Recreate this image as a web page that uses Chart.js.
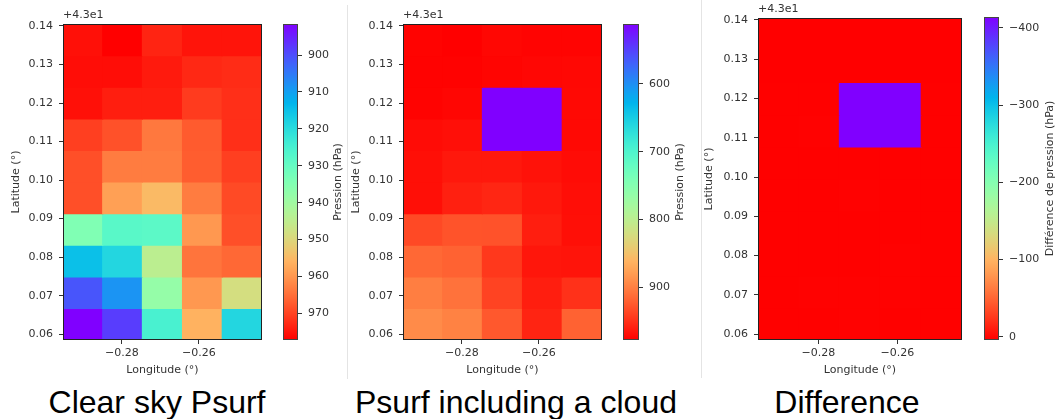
<!DOCTYPE html>
<html>
<head>
<meta charset="utf-8">
<script src="https://cdn.jsdelivr.net/npm/chart.js@4"></script>
<style>
  body { margin: 0; background: #fff; }
  #wrap { position: relative; width: 1055px; height: 419px; overflow: hidden; }
  canvas { position: absolute; }
  .sep { position: absolute; width: 1px; background: #e4e4e4; }
  .caption { position: absolute; top: 386px; font: 32px "Liberation Sans", Arial, sans-serif; line-height: 32px; color: #000; white-space: nowrap; transform: translateX(-50%); }
</style>
</head>
<body>
<div id="wrap">
  <canvas id="map1" width="275" height="380" style="left:0;top:0"></canvas>
  <canvas id="cb1" width="75" height="380" style="left:283px;top:0"></canvas>
  <canvas id="map2" width="265" height="380" style="left:350px;top:0"></canvas>
  <canvas id="cb2" width="75" height="380" style="left:623px;top:0"></canvas>
  <canvas id="map3" width="275" height="380" style="left:700px;top:0"></canvas>
  <canvas id="cb3" width="71" height="380" style="left:984px;top:0"></canvas>
  <div class="sep" style="left:347px;top:5px;height:374px"></div>
  <div class="sep" style="left:701px;top:0;height:378px"></div>
  <div class="caption" style="left:157px">Clear sky Psurf</div>
  <div class="caption" style="left:516px">Psurf including a cloud</div>
  <div class="caption" style="left:847px">Difference</div>
</div>
<script>
// grid cell centres (degrees)
const lonCenters = [-0.2901, -0.2798, -0.2695, -0.2591, -0.2488];
const latCenters = [43.0626, 43.0708, 43.0790, 43.0872, 43.0954, 43.1036, 43.1118, 43.1200, 43.1282, 43.1364];
const lonTicks = [-0.28, -0.26];
const latTicks = [43.06, 43.07, 43.08, 43.09, 43.10, 43.11, 43.12, 43.13, 43.14];

// rows go south -> north, same order as latCenters (hPa)
const psurfClear = [
  [891.6, 898.2, 925.2, 956.1, 918.8],
  [900.9, 908.5, 938.0, 959.8, 948.5],
  [914.9, 918.8, 944.4, 964.3, 965.8],
  [934.5, 928.0, 928.5, 959.8, 968.6],
  [968.6, 958.7, 955.0, 963.4, 969.2],
  [968.6, 963.4, 963.4, 967.0, 970.4],
  [970.4, 968.4, 963.8, 967.3, 972.1],
  [975.5, 974.0, 974.0, 970.8, 972.1],
  [975.8, 975.8, 974.4, 972.9, 972.5],
  [975.5, 977.2, 973.3, 975.1, 975.1]
];
const psurfCloud = [
  [891.6, 898.2, 925.2, 956.1, 918.8],
  [900.9, 908.5, 938.0, 959.8, 948.5],
  [914.9, 918.8, 944.4, 964.3, 965.8],
  [934.5, 928.0, 928.5, 959.8, 968.6],
  [968.6, 958.7, 955.0, 963.4, 969.2],
  [968.6, 963.4, 963.4, 967.0, 970.4],
  [970.4, 968.4, 512.0, 512.0, 972.1],
  [975.5, 974.0, 512.0, 512.0, 972.1],
  [975.8, 975.8, 974.4, 972.9, 972.5],
  [975.5, 977.2, 973.3, 975.1, 975.1]
];
const psurfDiff = [
  [4.0, 4.0, 3.0, 4.0, 4.0],
  [4.0, 3.0, 3.0, 3.0, 4.0],
  [4.0, 4.0, 4.0, 3.0, 4.0],
  [4.0, 4.0, 4.0, 4.0, 4.0],
  [4.0, 4.0, 3.0, 4.0, 4.0],
  [4.0, 4.0, 4.0, 4.0, 4.0],
  [4.0, 3.0, -414.0, -414.0, 4.0],
  [4.0, 4.0, -414.0, -414.0, 4.0],
  [4.3, 4.3, 4.3, 4.3, 4.3],
  [4.3, 4.3, 4.3, 4.3, 4.3]
];
const cbTicksClear = [900, 910, 920, 930, 940, 950, 960, 970];
const cbTicksCloud = [600, 700, 800, 900];
const cbTicksDiff = [-400, -300, -200, -100, 0];

const FONT = { family: 'DejaVu Sans', size: 11 };
const INK = '#333';

// matplotlib 'rainbow'
function rainbow(t) {
  const c = v => Math.round(255 * Math.max(0, Math.min(1, v)));
  return `rgb(${c(Math.abs(2 * t - 0.5))},${c(Math.sin(Math.PI * t))},${c(Math.cos(Math.PI * t / 2))})`;
}

function minus(s) { return String(s).replace('-', '\u2212'); }

const framePlugin = {
  id: 'frame',
  afterDraw(chart, args, opts) {
    const { ctx, chartArea: a } = chart;
    ctx.save();
    ctx.strokeStyle = opts.color || '#222';
    ctx.lineWidth = 1;
    ctx.strokeRect(Math.round(a.left) + 0.5, Math.round(a.top) + 0.5,
      Math.round(a.right - a.left) - 1, Math.round(a.bottom - a.top) - 1);
    ctx.fillStyle = INK;
    ctx.font = '11px "DejaVu Sans"';
    if (opts.offsetText) {
      ctx.textAlign = 'left';
      ctx.textBaseline = 'bottom';
      ctx.fillText(opts.offsetText, a.left, a.top - 3);
    }
    if (opts.label) {
      ctx.translate(opts.labelX, (a.top + a.bottom) / 2);
      ctx.rotate(-Math.PI / 2);
      ctx.textAlign = 'center';
      ctx.textBaseline = 'middle';
      ctx.fillText(opts.label, 0, 0);
    }
    ctx.restore();
  }
};

function extent(values) {
  const flat = values.flat();
  return [Math.min(...flat), Math.max(...flat)];
}

function heatmap(id, values, o) {
  const [vmin, vmax] = extent(values);
  const dLat = latCenters[1] - latCenters[0];
  const dLon = lonCenters[1] - lonCenters[0];
  const cells = [];
  values.forEach((row, i) => row.forEach((v, j) => {
    cells.push({ x: lonCenters[j], y: [latCenters[i] - dLat / 2, latCenters[i] + dLat / 2], v: v });
  }));
  return new Chart(document.getElementById(id), {
    type: 'bar',
    data: {
      datasets: [{
        data: cells,
        backgroundColor: ctx => rainbow((ctx.raw.v - vmin) / (vmax - vmin)),
        borderWidth: 0,
        inflateAmount: 0.6,
        barPercentage: 1,
        categoryPercentage: 1
      }]
    },
    options: {
      responsive: false,
      animation: false,
      events: [],
      layout: { padding: { top: o.top, right: 13, left: 0, bottom: 0 } },
      plugins: { legend: { display: false }, tooltip: { enabled: false }, frame: { offsetText: '+4.3e1' } },
      scales: {
        x: {
          type: 'linear', offset: false,
          min: lonCenters[0] - dLon / 2, max: lonCenters[lonCenters.length - 1] + dLon / 2,
          afterBuildTicks: s => { s.ticks = lonTicks.map(v => ({ value: v })); },
          afterFit: s => { s.height = 40; },
          grid: { offset: false, drawOnChartArea: false, tickLength: 4, tickColor: INK },
          border: { display: false },
          ticks: { font: FONT, color: INK, padding: 3, maxRotation: 0, autoSkip: false, callback: v => minus(v.toFixed(2)) },
          title: { display: true, text: 'Longitude (°)', font: FONT, color: INK, padding: { top: 0, bottom: 3 } }
        },
        y: {
          type: 'linear', beginAtZero: false,
          min: latCenters[0] - dLat / 2, max: latCenters[latCenters.length - 1] + dLat / 2,
          afterBuildTicks: s => { s.ticks = latTicks.map(v => ({ value: v })); },
          afterFit: s => { s.width = o.yWidth; },
          grid: { drawOnChartArea: false, tickLength: 4, tickColor: INK },
          border: { display: false },
          ticks: { font: FONT, color: INK, padding: 6, autoSkip: false, callback: v => (v - 43).toFixed(2) },
          title: { display: true, text: 'Latitude (°)', font: FONT, color: INK, padding: { top: o.titlePad, bottom: 0 } }
        }
      }
    },
    plugins: [framePlugin]
  });
}

function colorbar(id, values, ticks, label, o) {
  const [vmin, vmax] = extent(values);
  return new Chart(document.getElementById(id), {
    type: 'bar',
    data: {
      labels: [''],
      datasets: [{
        data: [[vmin, vmax]],
        backgroundColor: ctx => {
          const a = ctx.chart.chartArea;
          if (!a) return null;
          const g = ctx.chart.ctx.createLinearGradient(0, a.top, 0, a.bottom);
          for (let k = 0; k <= 40; k++) g.addColorStop(k / 40, rainbow(k / 40));
          return g;
        },
        borderWidth: 0,
        barPercentage: 1,
        categoryPercentage: 1
      }]
    },
    options: {
      responsive: false,
      animation: false,
      events: [],
      layout: { padding: { top: o.top, bottom: 40, left: 0, right: 0 } },
      plugins: { legend: { display: false }, tooltip: { enabled: false },
        frame: { color: '#444', label: label, labelX: o.labelX } },
      scales: {
        x: { display: false },
        y: {
          position: 'right', reverse: true, beginAtZero: false,
          min: vmin, max: vmax,
          afterBuildTicks: s => { s.ticks = ticks.map(v => ({ value: v })); },
          afterFit: s => { s.width = o.axisWidth; },
          grid: { drawOnChartArea: false, tickLength: 4, tickColor: INK },
          border: { display: false },
          ticks: { font: FONT, color: INK, padding: 6, autoSkip: false, callback: v => minus(v) }
        }
      }
    },
    plugins: [framePlugin]
  });
}

heatmap('map1', psurfClear, { top: 24, yWidth: 63, titlePad: 10 });
colorbar('cb1', psurfClear, cbTicksClear, 'Pression (hPa)', { top: 24, axisWidth: 60, labelX: 55 });

heatmap('map2', psurfCloud, { top: 24, yWidth: 53, titlePad: 0 });
colorbar('cb2', psurfCloud, cbTicksCloud, 'Pression (hPa)', { top: 24, axisWidth: 59, labelX: 57 });

heatmap('map3', psurfDiff, { top: 18, yWidth: 58, titlePad: 3 });
colorbar('cb3', psurfDiff, cbTicksDiff, 'Différence de pression (hPa)', { top: 17, axisWidth: 56, labelX: 66 });
</script>
</body>
</html>
